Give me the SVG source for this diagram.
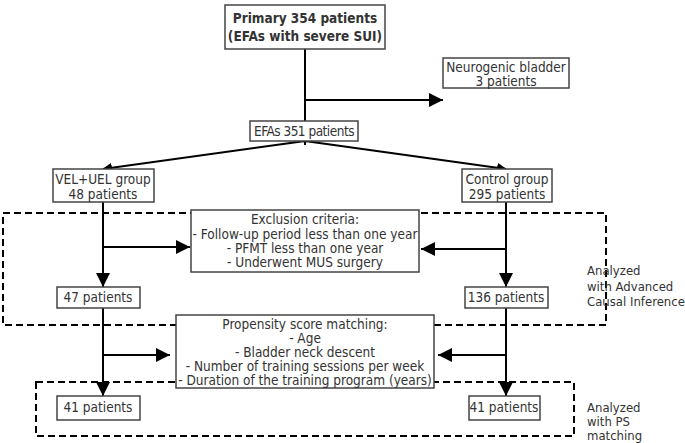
<svg xmlns="http://www.w3.org/2000/svg" width="685" height="443" viewBox="0 0 685 443">
<style>
text{font-family:"DejaVu Sans Condensed","DejaVu Sans",sans-serif;font-stretch:condensed;font-size:13.5px;fill:#333;text-anchor:middle}
.b{fill:#fff;stroke:#444;stroke-width:1.5}
.l{stroke:#000;stroke-width:2;fill:none}
.d{stroke:#000;stroke-width:2;fill:none;stroke-dasharray:7,4}
.lab{text-anchor:start;font-size:13px}
</style>
<defs><marker id="a" markerWidth="10" markerHeight="10" refX="9" refY="5" orient="auto" markerUnits="userSpaceOnUse" viewBox="0 0 10 10"><path d="M0,0L10,5L0,10z" fill="#000"/></marker>
<marker id="A" markerWidth="14" markerHeight="14" refX="14" refY="7" orient="auto" markerUnits="userSpaceOnUse" viewBox="0 0 14 14"><path d="M0,0L14,7L0,14z" fill="#000"/></marker></defs>
<g id="regions">
<rect class="d" x="3" y="213" width="603" height="112"/>
<rect class="d" x="36" y="382" width="538" height="54"/>
<text class="lab" x="587" y="275">Analyzed</text>
<text class="lab" x="587" y="291">with Advanced</text>
<text class="lab" x="587" y="306">Causal Inference</text>
<text class="lab" x="587" y="412">Analyzed</text>
<text class="lab" x="587" y="426">with PS</text>
<text class="lab" x="587" y="440">matching</text>
</g>
<g id="connectors">
<path class="l" d="M305,49V145" marker-end="url(#A)"/>
<path class="l" d="M305,100H443" marker-end="url(#A)"/>
<path class="l" d="M305,141L103,169" marker-end="url(#a)"/>
<path class="l" d="M305,141L506,169" marker-end="url(#a)"/>
<path class="l" d="M103,202V287" marker-end="url(#A)"/>
<path class="l" d="M506,202V287" marker-end="url(#A)"/>
<path class="l" d="M103,247H190" marker-end="url(#A)"/>
<path class="l" d="M506,249H421" marker-end="url(#A)"/>
<path class="l" d="M103,308V396" marker-end="url(#A)"/>
<path class="l" d="M506,308V396" marker-end="url(#A)"/>
<path class="l" d="M103,355H170" marker-end="url(#A)"/>
<path class="l" d="M506,355H438" marker-end="url(#A)"/>
</g>
<g id="primary"><rect class="b" x="225" y="5" width="160" height="44"/><text x="305" y="23" font-weight="bold">Primary 354 patients</text><text x="305" y="41" font-weight="bold">(EFAs with severe SUI)</text></g>
<g id="neuro"><rect class="b" x="443" y="58" width="126" height="30"/><text x="506" y="72">Neurogenic bladder</text><text x="506" y="86">3 patients</text></g>
<g id="efas"><rect class="b" x="250" y="121" width="108" height="20"/><text x="304" y="136" letter-spacing="-0.5">EFAs 351 patients</text></g>
<g id="vel"><rect class="b" x="53" y="169" width="101" height="33"/><text x="103" y="184">VEL+UEL group</text><text x="103" y="199">48 patients</text></g>
<g id="control"><rect class="b" x="462" y="169" width="90" height="33"/><text x="507" y="184">Control group</text><text x="507" y="199">295 patients</text></g>
<g id="exclusion"><rect class="b" x="191" y="210" width="228" height="62"/><text x="305" y="224">Exclusion criteria:</text><text x="305" y="239">- Follow-up period less than one year</text><text x="305" y="253">- PFMT less than one year</text><text x="305" y="267">- Underwent MUS surgery</text></g>
<g id="n47"><rect class="b" x="57" y="287" width="83" height="21"/><text x="98" y="302">47 patients</text></g>
<g id="n136"><rect class="b" x="465" y="287" width="83" height="21"/><text x="506" y="302">136 patients</text></g>
<g id="ps"><rect class="b" x="176" y="315" width="258" height="73"/><text x="305" y="329">Propensity score matching:</text><text x="305" y="343">- Age</text><text x="305" y="357">- Bladder neck descent</text><text x="305" y="371">- Number of training sessions per week</text><text x="305" y="385">- Duration of the training program (years)</text></g>
<g id="n41a"><rect class="b" x="57" y="396" width="83" height="24"/><text x="98" y="412">41 patients</text></g>
<g id="n41b"><rect class="b" x="469" y="396" width="71" height="24"/><text x="504" y="412">41 patients</text></g>
</svg>
